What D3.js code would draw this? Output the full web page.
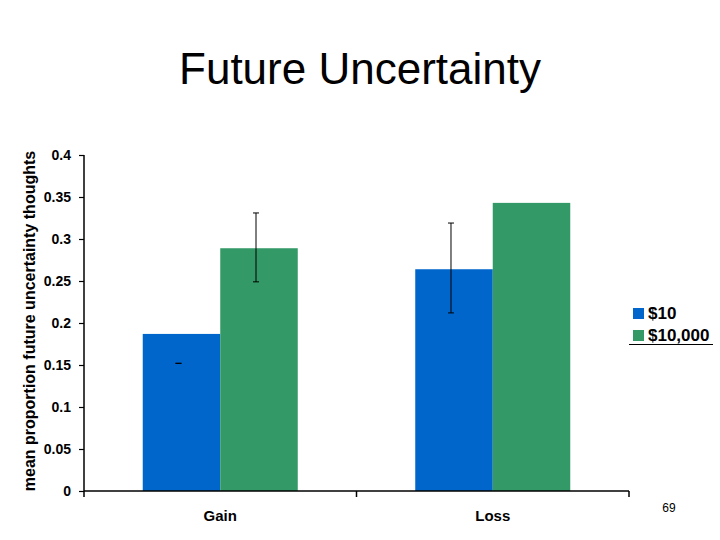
<!DOCTYPE html>
<html>
<head>
<meta charset="utf-8">
<script src="https://cdn.jsdelivr.net/npm/d3@7"></script>
<style>
  body { margin: 0; background: #fff; }
  text { font-family: "Liberation Sans", Arial, sans-serif; }
</style>
</head>
<body>
<svg id="chart"></svg>
<script>
// data
const categories = ["Gain", "Loss"];
const seriesNames = ["$10", "$10,000"];
const seriesColors = ["#0066CC", "#339966"];
const values10 = [0.187, 0.264];
const values10000 = [0.289, 0.343];
// error bars [low, high], null = none
const err10 = [[0.152, 0.152], [0.212, 0.319]];
const err10000 = [[0.249, 0.331], null];
const yTicks = [0, 0.05, 0.1, 0.15, 0.2, 0.25, 0.3, 0.35, 0.4];

const width = 720, height = 540;
const plotLeft = 84, plotRight = 629, plotTop = 155, plotBottom = 491;

const svg = d3.select("#chart").attr("width", width).attr("height", height);

const x = d3.scaleBand().domain(categories).range([plotLeft, plotRight]).paddingInner(0).paddingOuter(0);
const inner = d3.scaleBand().domain(seriesNames).range([0, x.bandwidth()]).paddingInner(0).paddingOuter(0.758);
const y = d3.scaleLinear().domain([0, 0.4]).range([plotBottom, plotTop]);

const allValues = [values10, values10000];
const allErrs = [err10, err10000];

// title
svg.append("text")
  .attr("x", 360).attr("y", 84)
  .attr("text-anchor", "middle")
  .attr("font-size", "44px")
  .text("Future Uncertainty");

// bars
seriesNames.forEach((s, si) => {
  svg.append("g").selectAll("rect")
    .data(categories)
    .enter()
    .append("rect")
    .attr("x", c => x(c) + inner(s))
    .attr("y", (c, i) => y(allValues[si][i]))
    .attr("width", inner.bandwidth())
    .attr("height", (c, i) => plotBottom - y(allValues[si][i]))
    .style("fill", seriesColors[si]);
});

// error bars
seriesNames.forEach((s, si) => {
  categories.forEach((c, i) => {
    const e = allErrs[si][i];
    if (!e) return;
    const cx = x(c) + inner(s) + inner.bandwidth() / 2 - 3;
    const g = svg.append("g").attr("stroke", "#000").attr("stroke-width", 1);
    g.append("line").attr("x1", cx).attr("x2", cx).attr("y1", y(e[0])).attr("y2", y(e[1]));
    g.append("line").attr("x1", cx - 3).attr("x2", cx + 3).attr("y1", y(e[0])).attr("y2", y(e[0]));
    g.append("line").attr("x1", cx - 3).attr("x2", cx + 3).attr("y1", y(e[1])).attr("y2", y(e[1]));
  });
});

// y axis
const yAxis = d3.axisLeft(y).tickValues(yTicks).tickSize(5).tickPadding(8).tickFormat(d => d3.format("")(d));
const gy = svg.append("g").attr("transform", `translate(${plotLeft},0)`).call(yAxis);
gy.select(".domain").attr("stroke", "#000").attr("stroke-width", 1.5).attr("d", `M0,${plotTop}V${plotBottom}`);
gy.selectAll(".tick line").attr("stroke", "#000").attr("stroke-width", 1.2);
gy.selectAll(".tick text")
  .attr("font-family", "Liberation Sans, Arial, sans-serif")
  .attr("font-size", "14px").attr("font-weight", "bold").attr("fill", "#000");

// x axis with ticks at category boundaries
const boundaries = [plotLeft].concat(categories.map(c => x(c) + x.bandwidth()));
const gx = svg.append("g");
gx.append("line").attr("x1", plotLeft).attr("x2", plotRight).attr("y1", plotBottom).attr("y2", plotBottom)
  .attr("stroke", "#000").attr("stroke-width", 1.5);
gx.selectAll(".xt").data(boundaries).enter().append("line")
  .attr("x1", d => d).attr("x2", d => d).attr("y1", plotBottom).attr("y2", plotBottom + 6)
  .attr("stroke", "#000").attr("stroke-width", 1.5);
gx.selectAll("text").data(categories).enter().append("text")
  .attr("x", c => x(c) + x.bandwidth() / 2)
  .attr("y", 521)
  .attr("text-anchor", "middle")
  .attr("font-size", "15px").attr("font-weight", "bold")
  .text(c => c);

// y label
svg.append("text")
  .attr("transform", `translate(35,${(plotTop + plotBottom) / 2 - 2}) rotate(-90)`)
  .attr("text-anchor", "middle")
  .attr("font-size", "16px").attr("font-weight", "bold")
  .text("mean proportion future uncertainty thoughts");

// legend
const lg = svg.append("g").attr("transform", "translate(633,308)");
seriesNames.forEach((s, i) => {
  lg.append("rect").attr("x", 0).attr("y", i * 22).attr("width", 11).attr("height", 11).style("fill", seriesColors[i]);
  lg.append("text").attr("x", 15).attr("y", i * 22 + 11)
    .attr("font-size", "17px").attr("font-weight", "bold").text(s);
});
svg.append("line").attr("x1", 629).attr("x2", 713).attr("y1", 344.5).attr("y2", 344.5)
  .attr("stroke", "#000").attr("stroke-width", 1);

// slide number
svg.append("text").attr("x", 669).attr("y", 512).attr("text-anchor", "middle")
  .attr("font-size", "12px").text("69");
</script>
</body>
</html>
